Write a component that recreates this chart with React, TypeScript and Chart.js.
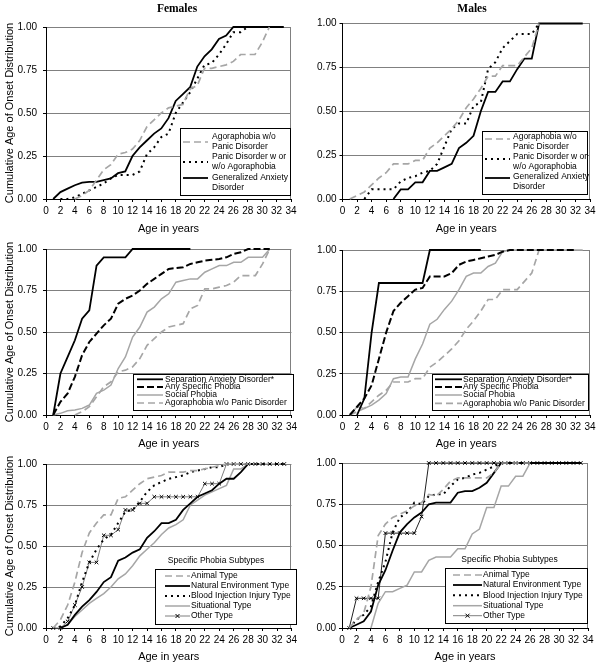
import React, { useEffect, useRef } from "react";
import { Chart, registerables } from "chart.js";
Chart.register(...registerables);

const FONT = '"Liberation Sans", Arial, Helvetica, sans-serif';
Chart.defaults.font.family = FONT;
Chart.defaults.color = "#000";

// ---------- data ----------
const AGE = [0, 1, 2, 3, 4, 5, 6, 7, 8, 9, 10, 11, 12, 13, 14, 15, 16, 17, 18, 19, 20, 21, 22, 23, 24, 25, 26, 27, 28, 29, 30, 31, 32, 33];
const X_MAX = 34;
const X_STEP = 2;
const Y_STEP = 0.25;

// Females, panel 1 & 2
const F_AGORA = [null, null, null, null, 0, 0.02, 0.05, 0.11, 0.17, 0.2, 0.26, 0.27, 0.29, 0.34, 0.42, 0.46, 0.5, 0.53, 0.54, 0.55, 0.64, 0.66, 0.76, 0.76, 0.77, 0.78, 0.8, 0.84, 0.84, 0.84, 0.91, 1.0];
const F_PANIC = [null, null, 0, 0, 0.01, 0.03, 0.05, 0.07, 0.09, 0.12, 0.14, 0.14, 0.14, 0.16, 0.26, 0.3, 0.36, 0.38, 0.5, 0.56, 0.62, 0.7, 0.78, 0.79, 0.84, 0.9, 0.97, 0.97, 1.0];
const F_GAD = [null, 0, 0.04, 0.06, 0.08, 0.095, 0.1, 0.1, 0.11, 0.12, 0.15, 0.16, 0.25, 0.3, 0.34, 0.38, 0.41, 0.47, 0.57, 0.61, 0.65, 0.77, 0.83, 0.87, 0.93, 0.95, 1, 1, 1, 1, 1, 1, 1, 1];
const F_SEP = [null, 0, 0.25, 0.35, 0.45, 0.58, 0.63, 0.9, 0.95, 0.95, 0.95, 0.95, 1, 1, 1, 1, 1, 1, 1, 1, 1];
const F_SPEC = [null, 0, 0.08, 0.13, 0.23, 0.36, 0.44, 0.49, 0.54, 0.58, 0.67, 0.7, 0.72, 0.75, 0.79, 0.82, 0.85, 0.88, 0.885, 0.89, 0.91, 0.92, 0.93, 0.935, 0.94, 0.95, 0.97, 0.98, 1, 1, 1, 1];
const F_SOCIAL = [null, 0, 0.01, 0.025, 0.03, 0.04, 0.06, 0.13, 0.15, 0.18, 0.28, 0.35, 0.47, 0.53, 0.62, 0.65, 0.7, 0.73, 0.8, 0.81, 0.82, 0.82, 0.86, 0.88, 0.9, 0.9, 0.92, 0.92, 0.95, 0.95, 0.95, 1];

// Males, panel 1 & 2
const M_AGORA = [null, 0, 0.02, 0.04, 0.08, 0.12, 0.15, 0.2, 0.2, 0.2, 0.22, 0.22, 0.29, 0.32, 0.36, 0.4, 0.45, 0.52, 0.57, 0.63, 0.7, 0.7, 0.76, 0.76, 0.76, 0.81, 0.86, 1.0];
const M_PANIC = [null, null, null, 0, 0.055, 0.055, 0.055, 0.055, 0.1, 0.12, 0.13, 0.15, 0.16, 0.2, 0.3, 0.4, 0.43, 0.43, 0.53, 0.55, 0.74, 0.78, 0.86, 0.9, 0.94, 0.94, 0.94, 1.0];
const M_GAD = [null, null, null, null, null, null, null, 0, 0.055, 0.055, 0.095, 0.095, 0.16, 0.16, 0.18, 0.2, 0.29, 0.32, 0.36, 0.5, 0.61, 0.61, 0.67, 0.67, 0.74, 0.8, 0.8, 1, 1, 1, 1, 1, 1, 1];
const M_SEP = [null, null, 0, 0.1, 0.5, 0.8, 0.8, 0.8, 0.8, 0.8, 0.8, 0.8, 1, 1, 1, 1, 1, 1, 1, 1];
const M_SPEC = [null, 0, 0.05, 0.1, 0.18, 0.34, 0.5, 0.63, 0.68, 0.72, 0.76, 0.77, 0.84, 0.84, 0.84, 0.86, 0.91, 0.93, 0.94, 0.95, 0.96, 0.97, 0.99, 1, 1, 1, 1, 1, 1, 1, 1, 1, 1];
const M_SOCIAL = [null, 0, 0.05, 0.04, 0.06, 0.09, 0.13, 0.22, 0.23, 0.23, 0.34, 0.43, 0.55, 0.58, 0.64, 0.69, 0.76, 0.84, 0.86, 0.86, 0.9, 0.92, 0.99, 1, 1, 1, 1, 1, 1, 1, 1, 1, 1, 1];

// Specific phobia subtypes
const F_ANIMAL = [null, 0, 0.05, 0.14, 0.28, 0.46, 0.58, 0.64, 0.69, 0.69, 0.79, 0.8, 0.84, 0.88, 0.91, 0.92, 0.93, 0.95, 0.95, 0.95, 0.96, 0.96, 0.97, 0.98, 0.99, 1, 1, 1, 1];
const F_NATURAL = [null, null, 0, 0.02, 0.08, 0.13, 0.17, 0.22, 0.28, 0.31, 0.41, 0.43, 0.46, 0.48, 0.55, 0.59, 0.64, 0.64, 0.66, 0.72, 0.76, 0.8, 0.82, 0.84, 0.88, 0.91, 0.91, 0.95, 1];
const F_BLOOD = [null, 0, 0.01, 0.06, 0.14, 0.28, 0.4, 0.48, 0.54, 0.57, 0.64, 0.71, 0.72, 0.77, 0.83, 0.87, 0.89, 0.91, 0.92, 0.93, 0.95, 0.96, 0.97, 0.98, 0.98, 1, 1, 1, 1, 1, 1, 1, 1, 1];
const F_SITUATIONAL = [null, null, 0, 0.02, 0.07, 0.11, 0.15, 0.18, 0.21, 0.25, 0.3, 0.33, 0.38, 0.44, 0.48, 0.52, 0.57, 0.61, 0.63, 0.66, 0.75, 0.78, 0.81, 0.83, 0.85, 0.87, 0.97, 0.97, 1];
const F_OTHER = [null, 0, 0, 0.04, 0.14, 0.25, 0.4, 0.4, 0.565, 0.565, 0.6, 0.72, 0.72, 0.76, 0.76, 0.8, 0.8, 0.8, 0.8, 0.8, 0.8, 0.8, 0.88, 0.88, 0.88, 1, 1, 1, 1, 1, 1, 1, 1, 1];

const M_ANIMAL = [null, 0, 0.05, 0.09, 0.25, 0.56, 0.63, 0.67, 0.69, 0.71, 0.74, 0.76, 0.81, 0.8, 0.84, 0.89, 0.91, 0.91, 0.91, 0.91, 0.91, 0.94, 1, 1, 1, 1, 1];
const M_NATURAL = [null, 0, 0.02, 0.04, 0.1, 0.26, 0.35, 0.47, 0.58, 0.63, 0.67, 0.7, 0.75, 0.76, 0.76, 0.76, 0.82, 0.83, 0.83, 0.85, 0.88, 0.94, 1, 1, 1, 1, 1, 1, 1, 1, 1, 1, 1, 1];
const M_BLOOD = [null, 0, 0.05, 0.08, 0.13, 0.28, 0.4, 0.58, 0.67, 0.7, 0.76, 0.75, 0.8, 0.81, 0.81, 0.86, 0.9, 0.91, 0.93, 0.94, 0.96, 0.98, 1, 1, 1, 1, 1, 1, 1, 1, 1, 1, 1, 1];
const M_SITUATIONAL = [null, null, null, null, 0, 0.15, 0.22, 0.22, 0.24, 0.26, 0.34, 0.34, 0.41, 0.43, 0.43, 0.43, 0.48, 0.48, 0.57, 0.6, 0.73, 0.73, 0.86, 0.86, 0.92, 0.92, 1];
const M_OTHER = [null, 0, 0.18, 0.18, 0.18, 0.18, 0.575, 0.575, 0.575, 0.575, 0.575, 0.675, 1, 1, 1, 1, 1, 1, 1, 1, 1, 1, 1, 1, 1, 1, 1, 1, 1, 1, 1, 1, 1, 1];

// labels
const L_AGORA2 = ["Agoraphobia w/o", "Panic Disorder"];
const L_PANIC2 = ["Panic Disorder w or", "w/o Agoraphobia"];
const L_GAD2 = ["Generalized Anxiety", "Disorder"];
const L_SEP = "Separation Anxiety Disorder*";
const L_SPEC = "Any Specific Phobia";
const L_SOCIAL = "Social Phobia";
const L_AGORA = "Agoraphobia w/o Panic Disorder";
const L_SUB_TITLE = "Specific Phobia Subtypes";
const L_ANIMAL = "Animal Type";
const L_NATURAL = "Natural Environment Type";
const L_BLOOD = "Blood Injection Injury Type";
const L_SITUATIONAL = "Situational Type";
const L_OTHER = "Other Type";

// ---------- styles ----------
const STYLE: any = {
  grayDash: { borderColor: "#a6a6a6", borderWidth: 1.7, borderDash: [7, 4] },
  blackDot: { borderColor: "#000", borderWidth: 2, borderDash: [2, 4] },
  blackSolid: { borderColor: "#000", borderWidth: 1.8 },
  blackDash: { borderColor: "#000", borderWidth: 2, borderDash: [7, 3] },
  graySolid: { borderColor: "#a6a6a6", borderWidth: 1.5 },
  otherF: { borderColor: "#7f7f7f", borderWidth: 1, pointStyle: "crossRot", pointRadius: 2.5, pointBorderColor: "#000", pointBorderWidth: 1 },
  otherM: { borderColor: "#222", borderWidth: 1, pointStyle: "crossRot", pointRadius: 2.5, pointBorderColor: "#000", pointBorderWidth: 1 },
};

const pts = (arr: (number | null)[]) =>
  arr.map((v, i) => (v === null ? null : { x: AGE[i], y: v })).filter((p) => p !== null);

// ---------- panels (page coordinates) ----------
const PANELS: any[] = [
  {
    cx: 0, cy: 0, cw: 300, ch: 236, L: 46, T: 27, R: 291, B: 199, yTitle: true, yPad: 6, tPad: 0,
    series: [
      { data: F_AGORA, style: "grayDash" },
      { data: F_PANIC, style: "blackDot" },
      { data: F_GAD, style: "blackSolid" },
    ],
    legend: {
      box: { x: 180, y: 128, w: 110, h: 67 }, tx: 212, sx0: 183, sx1: 208, gap: 9.7,
      items: [
        { lines: L_AGORA2, style: "grayDash", ty: 137, sy: 142 },
        { lines: L_PANIC2, style: "blackDot", ty: 157, sy: 162 },
        { lines: L_GAD2, style: "blackSolid", ty: 178, sy: 178 },
      ],
    },
  },
  {
    cx: 300, cy: 0, cw: 301, ch: 236, L: 342.5, T: 23.5, R: 590, B: 199, yTitle: false, yPad: 3, tPad: 0,
    series: [
      { data: M_AGORA, style: "grayDash" },
      { data: M_PANIC, style: "blackDot" },
      { data: M_GAD, style: "blackSolid" },
    ],
    legend: {
      box: { x: 482, y: 131, w: 105, h: 63 }, tx: 513, sx0: 485, sx1: 510, gap: 9.7,
      items: [
        { lines: L_AGORA2, style: "grayDash", ty: 137, sy: 139 },
        { lines: L_PANIC2, style: "blackDot", ty: 157, sy: 159 },
        { lines: L_GAD2, style: "blackSolid", ty: 177, sy: 178 },
      ],
    },
  },
  {
    cx: 0, cy: 236, cw: 300, ch: 215, L: 46, T: 249, R: 293, B: 415, yTitle: true, yPad: 6, tPad: 0,
    series: [
      { data: F_SEP, style: "blackSolid" },
      { data: F_SPEC, style: "blackDash" },
      { data: F_SOCIAL, style: "graySolid" },
      { data: F_AGORA, style: "grayDash" },
    ],
    legend: {
      box: { x: 133, y: 374, w: 160, h: 36 }, tx: 165, sx0: 137, sx1: 163, gap: 9,
      items: [
        { lines: [L_SEP], style: "blackSolid", ty: 379.3, sy: 379.3 },
        { lines: [L_SPEC], style: "blackDash", ty: 387, sy: 387 },
        { lines: [L_SOCIAL], style: "graySolid", ty: 395, sy: 395 },
        { lines: [L_AGORA], style: "grayDash", ty: 403, sy: 403 },
      ],
    },
  },
  {
    cx: 300, cy: 236, cw: 301, ch: 215, L: 342.5, T: 250, R: 590, B: 415, yTitle: false, yPad: 3, tPad: 0,
    series: [
      { data: M_SEP, style: "blackSolid" },
      { data: M_SPEC, style: "blackDash" },
      { data: M_SOCIAL, style: "graySolid" },
      { data: M_AGORA, style: "grayDash" },
    ],
    legend: {
      box: { x: 432, y: 374, w: 156, h: 36 }, tx: 463, sx0: 435, sx1: 462, gap: 9,
      items: [
        { lines: [L_SEP], style: "blackSolid", ty: 379.3, sy: 379.3 },
        { lines: [L_SPEC], style: "blackDash", ty: 387, sy: 387 },
        { lines: [L_SOCIAL], style: "graySolid", ty: 395, sy: 395 },
        { lines: [L_AGORA], style: "grayDash", ty: 403.3, sy: 403.3 },
      ],
    },
  },
  {
    cx: 0, cy: 451, cw: 300, ch: 216, L: 46, T: 464, R: 294, B: 628, yTitle: true, yPad: 6, tPad: 3,
    series: [
      { data: F_ANIMAL, style: "grayDash" },
      { data: F_NATURAL, style: "blackSolid" },
      { data: F_BLOOD, style: "blackDot" },
      { data: F_SITUATIONAL, style: "graySolid" },
      { data: F_OTHER, style: "otherF" },
    ],
    legend: {
      box: { x: 155, y: 569, w: 141, h: 55 }, tx: 191, sx0: 165, sx1: 190, gap: 9,
      title: { text: L_SUB_TITLE, x: 216, y: 561 },
      items: [
        { lines: [L_ANIMAL], style: "grayDash", ty: 576, sy: 576 },
        { lines: [L_NATURAL], style: "blackSolid", ty: 586, sy: 586 },
        { lines: [L_BLOOD], style: "blackDot", ty: 596, sy: 596 },
        { lines: [L_SITUATIONAL], style: "graySolid", ty: 606, sy: 606 },
        { lines: [L_OTHER], style: "otherF", ty: 616, sy: 616 },
      ],
    },
  },
  {
    cx: 300, cy: 451, cw: 301, ch: 216, L: 342, T: 463, R: 588, B: 628, yTitle: false, yPad: 3, tPad: 3,
    series: [
      { data: M_ANIMAL, style: "grayDash" },
      { data: M_NATURAL, style: "blackSolid" },
      { data: M_BLOOD, style: "blackDot" },
      { data: M_SITUATIONAL, style: "graySolid" },
      { data: M_OTHER, style: "otherM" },
    ],
    legend: {
      box: { x: 445, y: 568, w: 142, h: 55 }, tx: 483, sx0: 453, sx1: 482, gap: 9,
      title: { text: L_SUB_TITLE, x: 509.5, y: 560 },
      items: [
        { lines: [L_ANIMAL], style: "grayDash", ty: 575, sy: 575 },
        { lines: [L_NATURAL], style: "blackSolid", ty: 585, sy: 585 },
        { lines: [L_BLOOD], style: "blackDot", ty: 595.3, sy: 595.3 },
        { lines: [L_SITUATIONAL], style: "graySolid", ty: 605.7, sy: 605.7 },
        { lines: [L_OTHER], style: "otherF", ty: 615.7, sy: 615.7 },
      ],
    },
  },
];

function makePlugin(p: any) {
  return {
    id: "overlay",
    beforeDatasetsDraw(chart: any) {
      const { ctx, chartArea: a } = chart;
      ctx.save();
      ctx.strokeStyle = "#808080";
      ctx.lineWidth = 1;
      ctx.setLineDash([]);
      const x = Math.round(a.right) - 0.5;
      ctx.beginPath();
      ctx.moveTo(x, a.top);
      ctx.lineTo(x, a.bottom);
      ctx.stroke();
      ctx.restore();
    },
    afterDraw(chart: any) {
      const ctx = chart.ctx;
      const lg = p.legend;
      const ox = p.cx, oy = p.cy;
      ctx.save();
      const bx = Math.round(lg.box.x - ox), by = Math.round(lg.box.y - oy);
      ctx.fillStyle = "#fff";
      ctx.fillRect(bx, by, lg.box.w, lg.box.h);
      ctx.strokeStyle = "#000";
      ctx.lineWidth = 1;
      ctx.setLineDash([]);
      ctx.strokeRect(bx + 0.5, by + 0.5, lg.box.w, lg.box.h);
      ctx.font = `8.5px ${FONT}`;
      ctx.fillStyle = "#000";
      ctx.textBaseline = "middle";
      if (lg.title) {
        ctx.textAlign = "center";
        ctx.fillText(lg.title.text, lg.title.x - ox, lg.title.y - oy);
      }
      ctx.textAlign = "left";
      for (const it of lg.items) {
        const st = STYLE[it.style];
        const y = it.sy - oy;
        ctx.strokeStyle = st.borderColor;
        ctx.lineWidth = st.borderWidth;
        ctx.setLineDash(st.borderDash || []);
        ctx.beginPath();
        ctx.moveTo(lg.sx0 - ox, y);
        ctx.lineTo(lg.sx1 - ox, y);
        ctx.stroke();
        ctx.setLineDash([]);
        if (st.pointStyle) {
          const mx = (lg.sx0 + lg.sx1) / 2 - ox;
          const r = 2;
          ctx.strokeStyle = "#000";
          ctx.lineWidth = 1;
          ctx.beginPath();
          ctx.moveTo(mx - r, y - r);
          ctx.lineTo(mx + r, y + r);
          ctx.moveTo(mx - r, y + r);
          ctx.lineTo(mx + r, y - r);
          ctx.stroke();
        }
        it.lines.forEach((t: string, k: number) => {
          ctx.fillText(t, lg.tx - ox, it.ty - oy + k * lg.gap);
        });
      }
      ctx.restore();
    },
  };
}

function buildConfig(p: any): any {
  const datasets = p.series.map((s: any) => {
    const st = STYLE[s.style];
    return {
      data: pts(s.data),
      borderColor: st.borderColor,
      borderWidth: st.borderWidth,
      borderDash: st.borderDash || [],
      pointStyle: st.pointStyle || "circle",
      pointRadius: st.pointRadius || 0,
      pointHoverRadius: 0,
      pointBorderColor: st.pointBorderColor || st.borderColor,
      pointBorderWidth: st.pointBorderWidth || 0,
      pointBackgroundColor: "transparent",
      fill: false,
      tension: 0,
      clip: 3,
    };
  });
  return {
    type: "line",
    data: { datasets },
    plugins: [makePlugin(p)],
    options: {
      responsive: false,
      maintainAspectRatio: false,
      animation: false,
      events: [],
      layout: { padding: { left: 0, right: p.cx + p.cw - p.R, top: p.T - p.cy, bottom: 0 } },
      plugins: { legend: { display: false }, tooltip: { enabled: false }, title: { display: false } },
      scales: {
        x: {
          type: "linear",
          min: 0,
          max: X_MAX,
          ticks: { stepSize: X_STEP, autoSkip: false, maxRotation: 0, font: { size: 10 }, color: "#000", padding: 3 },
          grid: { drawOnChartArea: false, drawTicks: true, tickLength: 3, tickColor: "#000" },
          border: { color: "#000", width: 1 },
          title: { display: true, text: "Age in years", font: { size: 11 }, color: "#000", padding: { top: 0, bottom: p.tPad } },
          afterFit: (s: any) => {
            s.height = p.cy + p.ch - p.B;
          },
        },
        y: {
          min: 0,
          max: 1,
          ticks: {
            stepSize: Y_STEP,
            font: { size: 10 },
            color: "#000",
            padding: p.yPad,
            callback: (v: any) => Number(v).toFixed(2),
          },
          grid: { color: "#808080", lineWidth: 1, drawTicks: true, tickLength: 3, tickColor: "#000" },
          border: { color: "#000", width: 1 },
          title: {
            display: p.yTitle,
            text: "Cumulative Age of Onset Distribution",
            font: { size: 11 },
            color: "#000",
            padding: { top: 3, bottom: 0 },
          },
          afterFit: (s: any) => {
            s.width = p.L - p.cx;
          },
        },
      },
    },
  };
}

function Panel({ p }: { p: any }) {
  const ref = useRef<HTMLCanvasElement | null>(null);
  useEffect(() => {
    const chart = new Chart(ref.current as HTMLCanvasElement, buildConfig(p));
    return () => chart.destroy();
  }, [p]);
  return (
    <canvas
      ref={ref}
      width={p.cw}
      height={p.ch}
      style={{ position: "absolute", left: p.cx, top: p.cy, width: p.cw, height: p.ch }}
    />
  );
}

const headerStyle: any = {
  position: "absolute",
  top: 2,
  width: 120,
  textAlign: "center",
  font: 'bold 11.5px "Liberation Serif", "Times New Roman", serif',
  lineHeight: "13px",
  color: "#000",
};

export default function App() {
  return (
    <div style={{ position: "absolute", left: 0, top: 0, width: 601, height: 667, background: "#fff", overflow: "hidden" }}>
      {PANELS.map((p, i) => (
        <Panel key={i} p={p} />
      ))}
      <div style={{ ...headerStyle, left: 177 - 60 }}>Females</div>
      <div style={{ ...headerStyle, left: 472 - 60 }}>Males</div>
    </div>
  );
}
